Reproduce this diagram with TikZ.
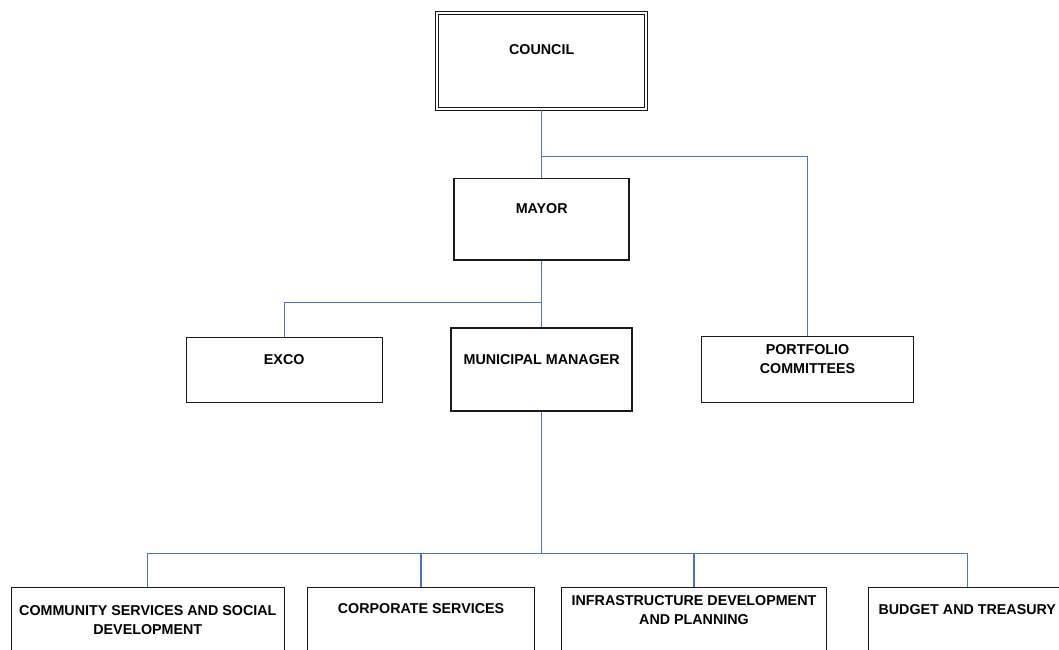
\documentclass[tikz,border=0pt]{standalone}
\usepackage{fontspec}
\setmainfont{Liberation Sans}
\usepackage{tikz}
\usetikzlibrary{positioning}
\definecolor{linkblue}{RGB}{70,118,196}
\tikzset{
        x=1pt, y=-1pt, % one unit is one pixel, origin top left
        link/.style={draw=linkblue, line width=1.2pt},
        lbl/.style={inner sep=0pt, align=center, font=\bfseries\fontsize{14.3}{18.9}\selectfont},
    }
\tikzstyle{box}=[draw=black!90, line width=1.1pt, fill=white, inner sep=0pt, minimum height=80pt]
\tikzstyle{thickbox}=[box, line width=1.75pt]

\begin{document}
\begin{tikzpicture}
    \useasboundingbox (0,0) rectangle (1059,649);
    \clip (0,0) rectangle (1059,649);

    % boxes
    \node[box, double, line width=1.2pt, double distance=1.8pt, minimum width=208.8pt, minimum height=96pt] (council) at (541.7,60.9) {};
    \node[thickbox, minimum width=175pt, minimum height=81.3pt] (mayor) at (541.7,219.2) {};
    \node[thickbox, minimum width=181pt, minimum height=82.6pt] (manager) at (541.7,369.5) {};
    \node[box, minimum width=196.3pt, minimum height=65pt] (exco) at (284.2,369.7) {};
    \node[box, minimum width=211.3pt, minimum height=65.7pt] (portfolio) at (807.5,369.3) {};
    \node[box, minimum width=273pt] (community) at (147.8,627.5) {};
    \node[box, minimum width=227pt] (corporate) at (421,627.5) {};
    \node[box, minimum width=265pt] (infra) at (694,627.5) {};
    \node[box, minimum width=198pt] (budget) at (967.3,627.5) {};

    % texts
    \node[lbl, below=32.2pt of council.north] (councilText) {COUNCIL};
    \node[lbl, below=25.7pt of mayor.north] (mayorText) {MAYOR};
    \node[lbl, below=26.8pt of manager.north] (managerText) {MUNICIPAL MANAGER};
    \node[lbl, below=17.8pt of exco.north] (excoText) {EXCO};
    \node[lbl, below=8.5pt of portfolio.north] (portfolioText) {PORTFOLIO\\COMMITTEES};
    \node[lbl, below=18.2pt of community.north] (communityText) {COMMUNITY SERVICES AND SOCIAL\\DEVELOPMENT};
    \node[lbl, below=16.5pt of corporate.north] (corporateText) {CORPORATE SERVICES};
    \node[lbl, below=8.8pt of infra.north] (infraText) {INFRASTRUCTURE DEVELOPMENT\\AND PLANNING};
    \node[lbl, below=17.8pt of budget.north] (budgetText) {BUDGET AND TREASURY};

    % connectors
    \coordinate (councilSplit) at (541.7,156.7);
    \coordinate (mayorSplit) at (541.7,302.7);
    \coordinate (managerSplit) at (541.7,553.3);
    \draw[link] (council) -- (mayor);
    \draw[link] (councilSplit) -| (portfolio);
    \draw[link] (mayor) -- (manager);
    \draw[link] (mayorSplit) -| (exco);
    \draw[link] (manager) -- (managerSplit);
    \foreach \dept in {community, corporate, infra, budget}
        \draw[link] (managerSplit) -| (\dept);
\end{tikzpicture}
\end{document}
